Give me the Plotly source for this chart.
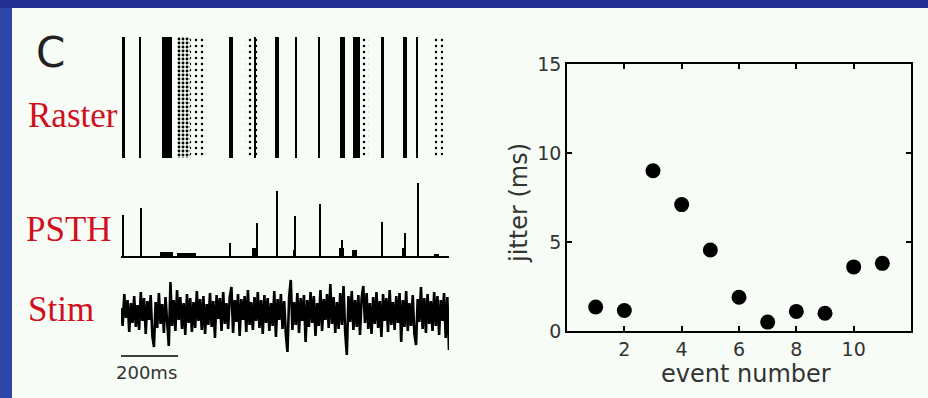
import plotly.graph_objects as go

# ---------------- data ----------------
# Raster: spike events (ms), spread (ms), relative spike density
raster_time = [7, 56, 135, 184, 228, 324, 387, 394, 459, 515, 582, 651, 693, 717, 768, 835, 871, 935]
raster_width = [8, 4, 30, 38, 50, 12, 44, 7, 9, 6, 4, 15, 21, 28, 9, 12, 4, 23]
raster_density = [1, 1, 0.75, 0.45, 0.12, 1, 0.15, 0.9, 1, 0.8, 1, 1, 0.8, 0.15, 1, 1, 1, 0.2]
n_trials = 60

# PSTH: bin centres (ms), counts, bin widths (ms)
psth_time = [7, 58, 134, 192, 321, 390, 400, 459, 510, 513, 585, 648, 651, 688, 768, 832, 836, 874, 929]
psth_height = [41, 48, 4, 3, 13, 8, 33, 65, 6, 40, 52, 8, 16, 6, 34, 8, 23, 73, 2]
psth_width = [6, 4, 40, 55, 8, 12, 4, 5, 8, 3, 3, 15, 4, 15, 4, 12, 4, 3, 15]

# Stimulus trace (arbitrary units), sampled uniformly over 0-965 ms
stim = [
    4, -14, 18, -6, 12, -20, 9, -11, 16, -15,
    7, -18, 20, -9, 14, -22, 11, -8, 17, -24,
    -35, 10, -16, 19, -12, 8, -21, 15, -10, -34,
    30, -14, 12, -19, 22, -8, 15, -17, 9, -23,
    18, -11, 14, -20, 10, -16, 21, -9, 13, -18,
    16, -22, 8, -13, 19, -15, 11, -26, 17, -7,
    14, -19, 20, -12, 9, -17, 15, 25, -21, 12,
    -10, 18, -24, 13, -8, 16, -20, 22, -13, 10,
    -18, 15, -9, 20, -16, 12, -22, 17, -11, 14,
    -19, 9, -14, 21, -25, 13, -8, 18, -17, 11,
    -22, -40, 15, 32, -18, 10, -13, 19, -21, 14,
    -9, 17, -30, 12, -15, 20, -11, 16, -24, 9,
    -14, 22, -19, 13, -8, 18, -16, 28, -12, 15,
    -21, 10, -17, 19, -13, 26, -20, -43, 16, -10,
    21, -18, 12, -15, 17, -23, 14, 26, -11, 19,
    -17, 9, -22, 15, -12, 20, -16, 11, -25, 18,
    -9, 14, -20, 22, -13, 10, -18, 16, -11, 19,
    -30, 12, -15, 21, -19, 9, -14, 17, -22, -33,
    13, -10, 25, -17, 14, -21, 18, -12, 11, -19,
    20, -14, 16, -23, 12, -9, 19, -26, 15, -38,
]
t_end = 965
scale_bar_ms = 200
scale_bar_start = -32

# Jitter panel
event_number = [1, 2, 3, 4, 5, 6, 7, 8, 9, 10, 11]
jitter_ms = [1.35, 1.15, 9.0, 7.1, 4.55, 1.9, 0.5, 1.1, 1.0, 3.6, 3.8]
x_ticks = [2, 4, 6, 8, 10]
y_ticks = [0, 5, 10, 15]

# ---------------- figure ----------------
W, H = 928, 398
def px(x):
    return x / W
def py(y):
    return 1 - y / H

stim_t = [i * t_end / (len(stim) - 1) for i in range(len(stim))]

fig = go.Figure()

solid = [i for i, d in enumerate(raster_density) if d >= 0.7]
loose = [i for i, d in enumerate(raster_density) if d < 0.7]
fig.add_trace(go.Bar(
    x=[raster_time[i] for i in solid], y=[n_trials] * len(solid),
    width=[raster_width[i] for i in solid],
    marker=dict(color="black", line=dict(width=0)),
    xaxis="x", yaxis="y", hoverinfo="skip", showlegend=False))
fig.add_trace(go.Bar(
    x=[raster_time[i] for i in loose], y=[n_trials] * len(loose),
    width=[raster_width[i] for i in loose],
    marker=dict(color="rgba(0,0,0,0)", line=dict(width=0),
                pattern=dict(shape=".", fgcolor="black", bgcolor="rgba(0,0,0,0)", fgopacity=1,
                             size=[4 if raster_density[i] > 0.3 else 6 for i in loose],
                             solidity=[0.4 if raster_density[i] > 0.3 else 0.13 for i in loose])),
    xaxis="x", yaxis="y", hoverinfo="skip", showlegend=False))

fig.add_trace(go.Bar(
    x=psth_time, y=psth_height, width=psth_width,
    marker=dict(color="black", line=dict(width=0)),
    xaxis="x2", yaxis="y2", hoverinfo="skip", showlegend=False))

fig.add_trace(go.Scatter(
    x=stim_t, y=stim, mode="lines", line=dict(color="black", width=2.6),
    xaxis="x3", yaxis="y3", hoverinfo="skip", showlegend=False))

fig.add_trace(go.Scatter(
    x=event_number, y=jitter_ms, mode="markers",
    marker=dict(color="black", size=15, line=dict(width=0)),
    xaxis="x4", yaxis="y4", showlegend=False))

hidden = dict(visible=False, showgrid=False, zeroline=False)
left_dom = [px(121), px(449)]
tick_font = dict(family="DejaVu Sans, Arial", size=19, color="#333333")
box_axis = dict(showline=True, linecolor="black", linewidth=1.5, mirror="ticks",
                ticks="inside", ticklen=5, tickwidth=1.5, tickcolor="black",
                showgrid=False, zeroline=False, tickfont=tick_font)

fig.update_layout(
    width=W, height=H,
    margin=dict(l=0, r=0, t=0, b=0, pad=0, autoexpand=False),
    paper_bgcolor="#2b45a8",
    plot_bgcolor="rgba(0,0,0,0)",
    barmode="overlay",
    bargap=0,
    xaxis=dict(domain=left_dom, range=[0, t_end], anchor="y", **hidden),
    yaxis=dict(domain=[py(158), py(37)], range=[0, n_trials], anchor="x", **hidden),
    xaxis2=dict(domain=left_dom, range=[0, t_end], anchor="y2", showline=True,
                linecolor="black", linewidth=1.5, showticklabels=False, ticks="",
                showgrid=False, zeroline=False),
    yaxis2=dict(domain=[py(256), py(183)], range=[0, 73], anchor="x2", **hidden),
    xaxis3=dict(domain=left_dom, range=[0, t_end], anchor="y3", **hidden),
    yaxis3=dict(domain=[py(357), py(278)], range=[-45, 34], anchor="x3", **hidden),
    xaxis4=dict(domain=[px(567), px(911)], range=[0, 12], anchor="y4",
                tickvals=x_ticks, **box_axis),
    yaxis4=dict(domain=[py(331), py(64)], range=[0, 15], anchor="x4",
                tickvals=y_ticks, **box_axis),
    shapes=[
        dict(type="rect", xref="paper", yref="paper", x0=0, x1=1, y0=py(8), y1=1,
             fillcolor="#232f92", line=dict(width=0), layer="below"),
        dict(type="rect", xref="paper", yref="paper", x0=px(12), x1=1, y0=0, y1=py(8),
             fillcolor="#f7fcf7", line=dict(width=0), layer="below"),
        dict(type="line", xref="x3", yref="paper",
             x0=scale_bar_start, x1=scale_bar_start + scale_bar_ms,
             y0=py(356), y1=py(356), line=dict(color="black", width=1.5)),
    ],
    annotations=[
        dict(text="C", x=px(34), y=py(53), xref="paper", yref="paper",
             xanchor="left", yanchor="middle", showarrow=False,
             font=dict(family="DejaVu Sans, Arial", size=42, color="#222222")),
        dict(text="Raster", x=px(26), y=py(116), xref="paper", yref="paper",
             xanchor="left", yanchor="middle", showarrow=False,
             font=dict(family="Liberation Serif, Times New Roman", size=35, color="#d0101c")),
        dict(text="PSTH", x=px(24), y=py(230), xref="paper", yref="paper",
             xanchor="left", yanchor="middle", showarrow=False,
             font=dict(family="Liberation Serif, Times New Roman", size=35, color="#d0101c")),
        dict(text="Stim", x=px(26), y=py(309), xref="paper", yref="paper",
             xanchor="left", yanchor="middle", showarrow=False,
             font=dict(family="Liberation Serif, Times New Roman", size=35, color="#d0101c")),
        dict(text=f"{scale_bar_ms}ms", x=px(146), y=py(372), xref="paper", yref="paper",
             xanchor="center", yanchor="middle", showarrow=False,
             font=dict(family="DejaVu Sans, Arial", size=18, color="#333333")),
        dict(text="jitter (ms)", x=px(519), y=py(203), xref="paper", yref="paper",
             xanchor="center", yanchor="middle", textangle=-90, showarrow=False,
             font=dict(family="DejaVu Sans, Arial", size=24, color="#333333")),
        dict(text="event number", x=px(746), y=py(374), xref="paper", yref="paper",
             xanchor="center", yanchor="middle", showarrow=False,
             font=dict(family="DejaVu Sans, Arial", size=24, color="#333333")),
    ],
)

fig.write_html("out.html", config=dict(displayModeBar=False),
               post_script="document.body.style.margin='0';document.body.style.overflow='hidden';")
